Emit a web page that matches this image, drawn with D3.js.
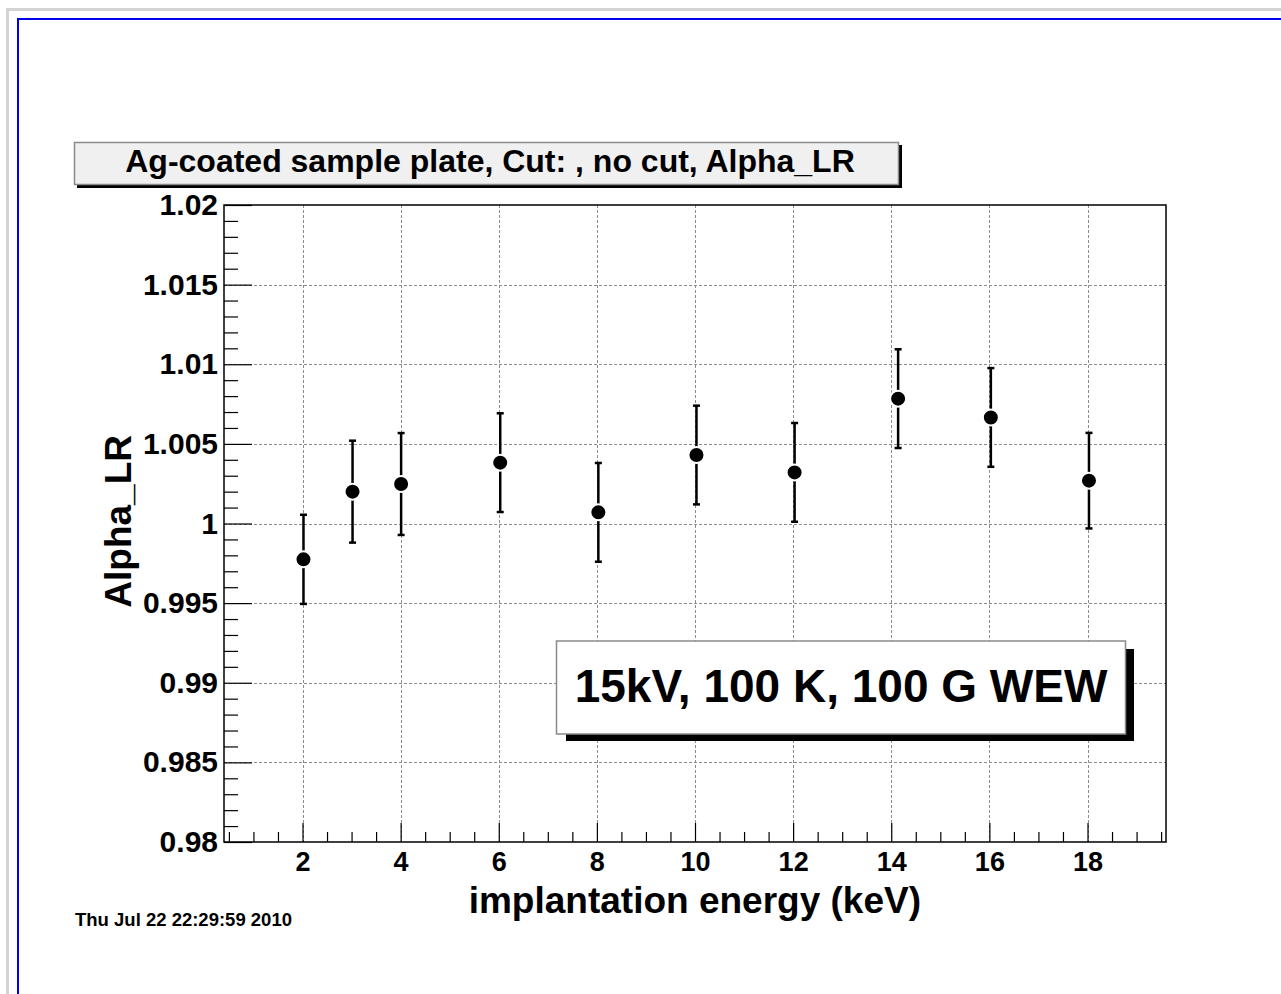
<!DOCTYPE html>
<html>
<head>
<meta charset="utf-8">
<script src="https://cdn.jsdelivr.net/npm/d3@7"></script>
<style>
  html, body { margin: 0; padding: 0; background: #fff; }
  svg { display: block; }
  text { font-family: "Liberation Sans", Arial, Helvetica, sans-serif; font-weight: bold; fill: #000; }
</style>
</head>
<body>
<svg width="1281" height="994"></svg>
<script>
// Data
const energy = [2.02, 3.02, 4.01, 6.03, 8.03, 10.03, 12.03, 14.14, 16.03, 18.03];
const alphaLR = [0.99775, 1.0020, 1.00248, 1.00382, 1.00070, 1.00430, 1.00321, 1.00784, 1.00666, 1.00269];
const alphaErr = [0.0028, 0.0032, 0.0032, 0.0031, 0.0031, 0.0031, 0.0031, 0.0031, 0.0031, 0.0030];

const xTicks = [2, 4, 6, 8, 10, 12, 14, 16, 18];
const xTickLabels = ["2", "4", "6", "8", "10", "12", "14", "16", "18"];
const yTicks = [0.98, 0.985, 0.99, 0.995, 1, 1.005, 1.01, 1.015, 1.02];
const yTickLabels = ["0.98", "0.985", "0.99", "0.995", "1", "1.005", "1.01", "1.015", "1.02"];

const titleText = "Ag-coated sample plate, Cut: , no cut, Alpha_LR";
const legendText = "15kV, 100 K, 100 G WEW";
const xTitle = "implantation energy (keV)";
const yTitle = "Alpha_LR";
const dateText = "Thu Jul 22 22:29:59 2010";

const svg = d3.select("svg");

// page frame (grey border + blue link border)
svg.append("rect")
  .attr("x", 7.5).attr("y", 9.5).attr("width", 1300).attr("height", 1000)
  .attr("fill", "none").attr("stroke", "#d3d3d3").attr("stroke-width", 3);
svg.append("rect")
  .attr("x", 18).attr("y", 19).attr("width", 1300).attr("height", 1000)
  .attr("fill", "none").attr("stroke", "#0000ee").attr("stroke-width", 2);

//   Frame geometry
const fLeft = 224, fRight = 1166, fTop = 205, fBottom = 842;

const x = d3.scaleLinear().domain([0.4, 19.6]).range([fLeft, fRight]);
const y = d3.scaleLinear().domain([0.98, 1.02]).range([fBottom, fTop]);

// Grid lines
const grid = svg.append("g").attr("stroke", "#8c8c8c").attr("stroke-width", 1).attr("stroke-dasharray", "3,2");
grid.selectAll("line.gx")
  .data(xTicks)
  .enter().append("line")
  .attr("x1", d => Math.round(x(d)) + 0.5).attr("x2", d => Math.round(x(d)) + 0.5)
  .attr("y1", fTop).attr("y2", fBottom);
grid.selectAll("line.gy")
  .data(yTicks.slice(1, -1))
  .enter().append("line")
  .attr("y1", d => Math.round(y(d)) + 0.5).attr("y2", d => Math.round(y(d)) + 0.5)
  .attr("x1", fLeft).attr("x2", fRight);

// Frame
svg.append("rect")
  .attr("x", fLeft).attr("y", fTop).attr("width", fRight - fLeft).attr("height", fBottom - fTop)
  .attr("fill", "none").attr("stroke", "#000").attr("stroke-width", 1.5);

// Minor ticks
const xMinor = d3.range(1, 40).map(i => i * 0.5).filter(v => v % 2 !== 0);
const yMinor = d3.range(0, 41).map(i => 0.98 + i * 0.001).filter((v, i) => i % 5 !== 0);

svg.append("g")
  .attr("transform", `translate(0,${fBottom})`)
  .call(d3.axisBottom(x).tickValues(xMinor).tickSize(-10).tickFormat(""))
  .call(g => g.select(".domain").remove())
  .call(g => g.selectAll("line").attr("stroke", "#000").attr("stroke-width", 1.2));

svg.append("g")
  .attr("transform", `translate(${fLeft},0)`)
  .call(d3.axisLeft(y).tickValues(yMinor).tickSize(-14).tickFormat(""))
  .call(g => g.select(".domain").remove())
  .call(g => g.selectAll("line").attr("stroke", "#000").attr("stroke-width", 1.2));

// Major axes
const xAxis = d3.axisBottom(x).tickValues(xTicks).tickSize(-19).tickPadding(10)
  .tickFormat((d, i) => xTickLabels[i]);
svg.append("g")
  .attr("transform", `translate(0,${fBottom})`)
  .call(xAxis)
  .call(g => g.select(".domain").remove())
  .call(g => g.selectAll("line").attr("stroke", "#000").attr("stroke-width", 1.2))
  .call(g => g.selectAll("text").attr("font-size", 27).attr("font-family", null).attr("fill", "#000"));

const yAxis = d3.axisLeft(y).tickValues(yTicks).tickSize(-28).tickPadding(6)
  .tickFormat((d, i) => yTickLabels[i]);
svg.append("g")
  .attr("transform", `translate(${fLeft},0)`)
  .call(yAxis)
  .call(g => g.select(".domain").remove())
  .call(g => g.selectAll("line").attr("stroke", "#000").attr("stroke-width", 1.2))
  .call(g => g.selectAll("text").attr("font-size", 30).attr("font-family", null).attr("fill", "#000"));

// Axis titles
svg.append("text")
  .attr("x", 921).attr("y", 913)
  .attr("text-anchor", "end")
  .attr("font-size", 37)
  .text(xTitle);

svg.append("text")
  .attr("transform", "translate(131,435) rotate(-90)")
  .attr("text-anchor", "end")
  .attr("font-size", 37)
  .text(yTitle);

// Error bars and markers
const pts = energy.map((e, i) => ({ x: e, y: alphaLR[i], err: alphaErr[i] }));
const bars = svg.append("g").attr("stroke", "#000").attr("stroke-width", 2.5);
bars.selectAll("line.bar")
  .data(pts).enter().append("line")
  .attr("x1", d => x(d.x)).attr("x2", d => x(d.x))
  .attr("y1", d => y(d.y + d.err)).attr("y2", d => y(d.y - d.err));
bars.selectAll("line.capTop")
  .data(pts).enter().append("line")
  .attr("x1", d => x(d.x) - 3.5).attr("x2", d => x(d.x) + 3.5)
  .attr("y1", d => y(d.y + d.err)).attr("y2", d => y(d.y + d.err));
bars.selectAll("line.capBot")
  .data(pts).enter().append("line")
  .attr("x1", d => x(d.x) - 3.5).attr("x2", d => x(d.x) + 3.5)
  .attr("y1", d => y(d.y - d.err)).attr("y2", d => y(d.y - d.err));

svg.append("g").selectAll("circle")
  .data(pts).enter().append("circle")
  .attr("cx", d => x(d.x)).attr("cy", d => y(d.y))
  .attr("r", 8)
  .attr("fill", "#000").attr("stroke", "#fff").attr("stroke-width", 2);

// Title box
svg.append("rect").attr("x", 77).attr("y", 145).attr("width", 825).attr("height", 43).attr("fill", "#000");
svg.append("rect").attr("x", 74.5).attr("y", 142.5).attr("width", 824).attr("height", 42)
  .attr("fill", "#f0f0f0").attr("stroke", "#8a8a8a").attr("stroke-width", 1.5);
svg.append("text")
  .attr("x", 490).attr("y", 172)
  .attr("text-anchor", "middle")
  .attr("font-size", 32)
  .text(titleText);

// Legend box
svg.append("rect").attr("x", 566).attr("y", 649).attr("width", 568).attr("height", 92).attr("fill", "#000");
svg.append("rect").attr("x", 556.5).attr("y", 641).attr("width", 569).attr("height", 93)
  .attr("fill", "#fff").attr("stroke", "#8a8a8a").attr("stroke-width", 1.5);
svg.append("text")
  .attr("x", 841).attr("y", 702)
  .attr("text-anchor", "middle")
  .attr("font-size", 46)
  .text(legendText);

// Date stamp
svg.append("text")
  .attr("x", 75).attr("y", 926)
  .attr("font-size", 18.5)
  .text(dateText);
</script>
</body>
</html>
